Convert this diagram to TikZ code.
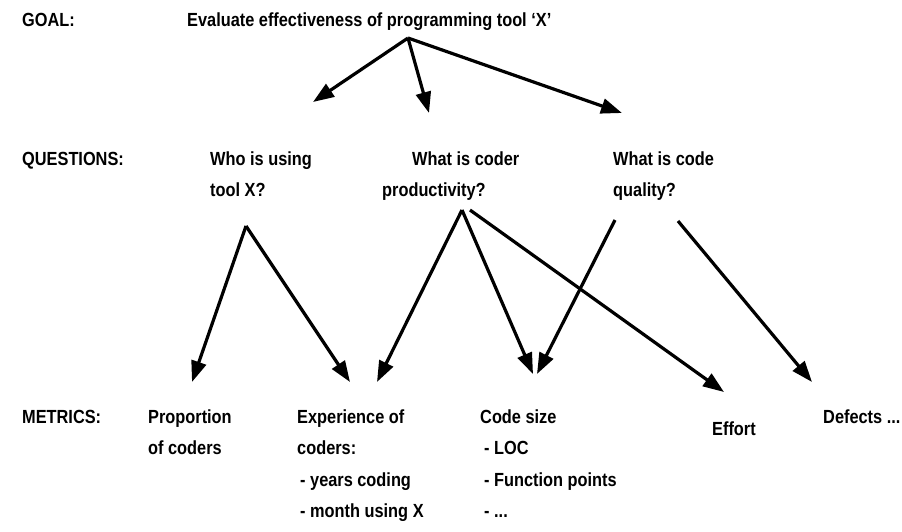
\documentclass[tikz,border=0pt]{standalone}
\usepackage{fontspec}
\setmainfont{Liberation Sans}[FakeStretch=0.86]
\usetikzlibrary{arrows.meta}
\newcommand\stk[1]{\vtop{\let\\\cr\halign{##\hfil\cr#1\crcr}}}
\begin{document}
\begin{tikzpicture}[x=1pt,y=-1pt,
  lbl/.style={anchor=base west,inner sep=0pt,
    font=\bfseries\fontsize{19}{31.5}\selectfont},
  arr/.style={line width=3.2pt,-{Triangle[length=21pt,width=15pt]}}]
\useasboundingbox[fill=white] (0,0) rectangle (902,531);
% level labels
\node[lbl] (goal) at (22,26) {GOAL:};
\node[lbl] (questions) at (22,165) {QUESTIONS:};
\node[lbl] (metrics) at (22,423) {METRICS:};
% goal
\node[lbl] (g) at (187,26) {Evaluate effectiveness of programming tool `X'};
% questions
\node[lbl] (q1) at (210,165) {\stk{Who is using\\tool X?}};
\node[lbl] (q2) at (382,165) {\stk{\hspace*{30pt}What is coder\\productivity?}};
\node[lbl] (q3) at (613,165) {\stk{What is code\\quality?}};
% metrics
\node[lbl] (m1) at (148,423) {\stk{Proportion\\of coders}};
\node[lbl] (m2) at (297,423) {\stk{Experience of\\coders:\\\hspace*{3pt}- years coding\\\hspace*{3pt}- month using X}};
\node[lbl] (m3) at (480,423) {\stk{Code size\\\hspace*{4pt}- LOC\\\hspace*{4pt}- Function points\\\hspace*{4pt}- ...}};
\node[lbl] (m4) at (712,435) {Effort};
\node[lbl] (m5) at (823,423) {Defects ...};
% connector points
\coordinate (gS) at (408,38);
\coordinate (q1T) at (313,102);
\coordinate (q2T) at (429,113);
\coordinate (q3T) at (622,113);
\coordinate (q1S) at (246,226);
\coordinate (q2S) at (462,210);
\coordinate (q2Se) at (470,210);
\coordinate (q3Sa) at (615,220);
\coordinate (q3Sb) at (678,221);
\coordinate (m1T) at (192,382);
\coordinate (m2Ta) at (350,382);
\coordinate (m2Tb) at (377,382);
\coordinate (m3Ta) at (533,374);
\coordinate (m3Tb) at (537,374);
\coordinate (m4T) at (724,392);
\coordinate (m5T) at (812,382);
% arrows
\draw[arr] (gS) -- (q1T);
\draw[arr] (gS) -- (q2T);
\draw[arr] (gS) -- (q3T);
\draw[arr] (q1S) -- (m1T);
\draw[arr] (q1S) -- (m2Ta);
\draw[arr] (q2S) -- (m2Tb);
\draw[arr] (q2S) -- (m3Ta);
\draw[arr] (q2Se) -- (m4T);
\draw[arr] (q3Sa) -- (m3Tb);
\draw[arr] (q3Sb) -- (m5T);
\end{tikzpicture}
\end{document}
